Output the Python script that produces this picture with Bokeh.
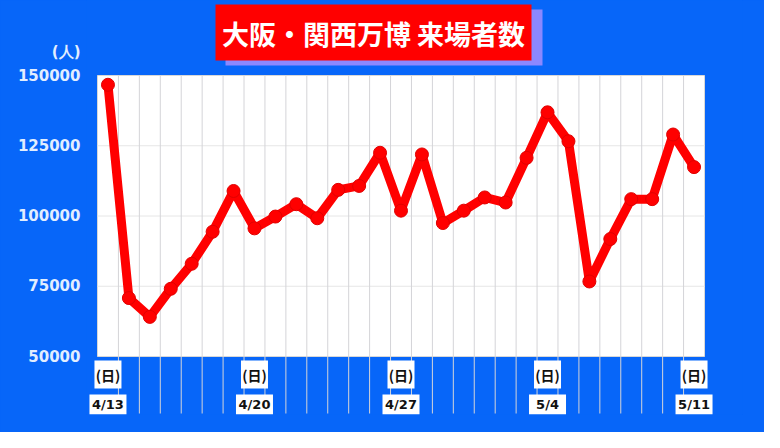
from bokeh.plotting import figure
from bokeh.models import Range1d, FixedTicker, BasicTickFormatter
from bokeh.core.properties import value
from bokeh.embed import file_html
from bokeh.resources import INLINE

# ---- data ----
dates = ["4/13", "4/14", "4/15", "4/16", "4/17", "4/18", "4/19",
         "4/20", "4/21", "4/22", "4/23", "4/24", "4/25", "4/26",
         "4/27", "4/28", "4/29", "4/30", "5/1", "5/2", "5/3",
         "5/4", "5/5", "5/6", "5/7", "5/8", "5/9", "5/10", "5/11"]
sunday_dates = ["4/13", "4/20", "4/27", "5/4", "5/11"]
visitors = [146700, 70800, 64100, 74100, 83000, 94400, 108900,
            95600, 99800, 104200, 99200, 109300, 110700, 122500,
            101900, 121900, 97500, 101900, 106600, 104800, 120700,
            136900, 126600, 76700, 91800, 106000, 106000, 129000, 117400]
y_ticks = [50000, 75000, 100000, 125000, 150000]
title_text = "大阪・関西万博 来場者数"
unit_text = "(人)"
sunday_text = "(日)"

BLUE = "#0766f9"
PALE = "#e2eeff"

W, H = 764, 432
FL, FR, FT, FB = 86, 742, 0, 414          # frame box in figure pixels
AL, AR = 97, 704                          # white area left/right pixels
Y_TOP_PX, Y_BOT_PX = 75, 356              # pixels of 150000 and 50000
per_px = (y_ticks[-1] - y_ticks[0]) / (Y_BOT_PX - Y_TOP_PX)
y_max = y_ticks[-1] + (Y_TOP_PX - FT) * per_px
y_min = y_ticks[0] - (FB - Y_BOT_PX) * per_px
n = len(dates)
a_lo, a_hi = -0.5, n - 0.5
unit_px = (AR - AL) / (a_hi - a_lo)
x_start = a_lo - (AL - FL) / unit_px
x_end = a_hi + (FR - AR) / unit_px


def dx(px):
    return x_start + (px - FL) / unit_px


def dy(py):
    return y_max - (py - FT) * per_px


unit_tick = round(dy(51), -2)

p = figure(width=W, height=H, output_backend="svg", toolbar_location=None,
           x_range=Range1d(x_start, x_end), y_range=Range1d(y_min, y_max),
           min_border_left=FL, min_border_right=W - FR,
           min_border_top=FT, min_border_bottom=H - FB)
p.background_fill_color = BLUE
p.border_fill_color = BLUE
p.styles = {"background-color": BLUE}
p.outline_line_color = None
p.xaxis.visible = False
p.xgrid.visible = False
p.ygrid.visible = False

yax = p.yaxis[0]
yax.ticker = FixedTicker(ticks=y_ticks + [unit_tick])
yax.formatter = BasicTickFormatter(use_scientific=False)
yax.major_label_overrides = {unit_tick: unit_text}
yax.axis_line_color = None
yax.major_tick_line_color = None
yax.minor_tick_line_color = None
yax.major_tick_out = 0
yax.major_tick_in = 0
yax.major_label_standoff = 6
yax.major_label_text_color = PALE
yax.major_label_text_font = "DejaVu Sans"
yax.major_label_text_font_style = "bold"
yax.major_label_text_font_size = "15px"

# blue backdrop over the whole frame
p.quad(left=[x_start - 1], right=[x_end + 1], bottom=[y_min - 5000],
       top=[y_max + 5000], fill_color=BLUE, line_color=None)

# white plot area
p.quad(left=[a_lo], right=[a_hi], bottom=[y_ticks[0]], top=[y_ticks[-1]],
       fill_color="white", line_color="#d8d8d8", line_width=1)

# horizontal grid
inner = y_ticks[1:-1]
p.segment(x0=[a_lo] * len(inner), x1=[a_hi] * len(inner), y0=inner, y1=inner,
          line_color="#e6e6e6", line_width=1)

# vertical grid (category boundaries, extending below the area)
bounds = [i - 0.5 for i in range(1, n)]
p.segment(x0=bounds, x1=bounds, y0=[dy(FB - 1)] * len(bounds),
          y1=[y_ticks[-1]] * len(bounds), line_color="#d4d4d8", line_width=1)

# title with shadow
p.quad(left=[dx(225)], right=[dx(542)], top=[dy(9)], bottom=[dy(65)],
       fill_color="#9a8cff", fill_alpha=0.9, line_color=None)
p.quad(left=[dx(215)], right=[dx(531)], top=[dy(4)], bottom=[dy(60)],
       fill_color="#ff0000", line_color=None)
p.text(x=[dx(373)], y=[dy(33)], text=[title_text], text_color="white",
       text_font=value("Noto Sans CJK JP"), text_font_style="bold",
       text_font_size="27px", text_align="center", text_baseline="middle")

# data line
xs = list(range(n))
p.line(xs, visitors, line_color="#ff0000", line_width=9, line_join="round")
p.scatter(xs, visitors, size=13, fill_color="#ff0000", line_color="#e00000")

# sunday labels
sx = [dates.index(d) for d in sunday_dates]
y_sun = dy(374)
y_date = dy(404)
p.rect(x=sx, y=[y_sun] * len(sx), width=27, height=28,
       width_units="screen", height_units="screen",
       fill_color="white", line_color=None)
p.rect(x=sx, y=[y_date] * len(sx), width=37, height=20,
       width_units="screen", height_units="screen",
       fill_color="white", line_color=None)
p.text(x=sx, y=[y_sun] * len(sx), text=[sunday_text] * len(sx),
       text_color="#111111", text_font=value("Noto Sans CJK JP"),
       text_font_style="bold", text_font_size="14px",
       text_align="center", text_baseline="middle")
p.text(x=sx, y=[y_date] * len(sx), text=sunday_dates,
       text_color="#111111", text_font=value("DejaVu Sans"),
       text_font_style="bold", text_font_size="13px",
       text_align="center", text_baseline="middle")

open("out.html", "w").write(file_html(p, INLINE))
